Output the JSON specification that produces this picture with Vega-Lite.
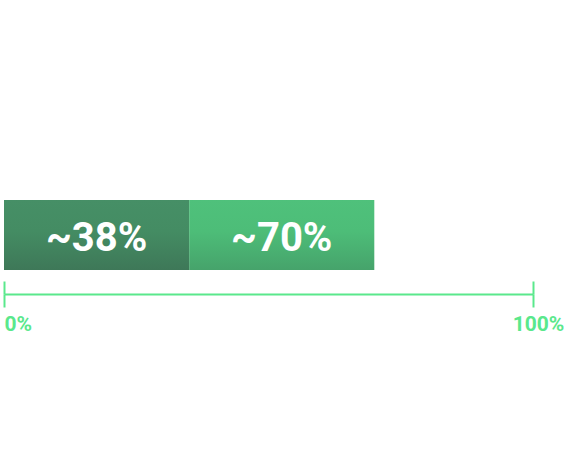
{
  "$schema": "https://vega.github.io/schema/vega-lite/v6.json",
  "width": 529,
  "height": 70,
  "autosize": {"type": "none"},
  "padding": {"left": 4, "top": 200, "right": 34, "bottom": 192},
  "background": "white",
  "data": {
    "values": [
      {"row": "share", "label": "~38%", "start": 0, "end": 35},
      {"row": "share", "label": "~70%", "start": 35, "end": 70}
    ]
  },
  "encoding": {
    "y": {"field": "row", "type": "nominal", "axis": null,
          "scale": {"paddingInner": 0, "paddingOuter": 0}}
  },
  "layer": [
    {
      "transform": [{"filter": "datum.label == '~38%'"}],
      "mark": {"type": "bar", "cornerRadius": 0,
        "color": {"gradient": "linear", "x1": 0, "y1": 0, "x2": 0, "y2": 1,
          "stops": [{"offset": 0, "color": "#468f66"}, {"offset": 0.45, "color": "#448c63"}, {"offset": 1, "color": "#3e7858"}]}},
      "encoding": {
        "x": {"field": "start", "type": "quantitative",
          "scale": {"domain": [0, 100], "nice": false},
          "axis": {"orient": "bottom", "offset": 24, "values": [0, 100], "grid": false, "title": null,
            "domainColor": "#5ae88c", "domainWidth": 2,
            "tickColor": "#5ae88c", "tickWidth": 2, "tickSize": 13,
            "labelExpr": "datum.value + '%'",
            "labelFont": "Roboto", "labelFontWeight": "bold", "labelFontSize": 21,
            "labelColor": "#5ae88c", "labelPadding": 6,
            "labelAlign": {"condition": {"test": "datum.value == 0", "value": "left"}, "value": "center"},
            "labelOffset": {"condition": {"test": "datum.value == 0", "value": 0}, "value": 5}}},
        "x2": {"field": "end"}
      }
    },
    {
      "transform": [{"filter": "datum.label == '~70%'"}],
      "mark": {"type": "bar", "cornerRadius": 0,
        "color": {"gradient": "linear", "x1": 0, "y1": 0, "x2": 0, "y2": 1,
          "stops": [{"offset": 0, "color": "#4fc17b"}, {"offset": 0.45, "color": "#4dbd78"}, {"offset": 1, "color": "#46a36b"}]}},
      "encoding": {
        "x": {"field": "start", "type": "quantitative",
          "axis": {"orient": "bottom", "offset": 24, "values": [0, 100], "grid": false, "title": null,
            "domain": false, "labels": false,
            "tickColor": "#5ae88c", "tickWidth": 2, "tickSize": -13}},
        "x2": {"field": "end"}
      }
    },
    {
      "transform": [{"calculate": "(datum.start + datum.end) / 2", "as": "mid"}],
      "mark": {"type": "text", "color": "white", "font": "Roboto", "fontWeight": "bold",
        "fontSize": 40, "baseline": "middle", "dy": 4},
      "encoding": {
        "x": {"field": "mid", "type": "quantitative", "axis": null},
        "text": {"field": "label"}
      }
    }
  ],
  "resolve": {"axis": {"x": "independent"}},
  "config": {"view": {"stroke": null}}
}
